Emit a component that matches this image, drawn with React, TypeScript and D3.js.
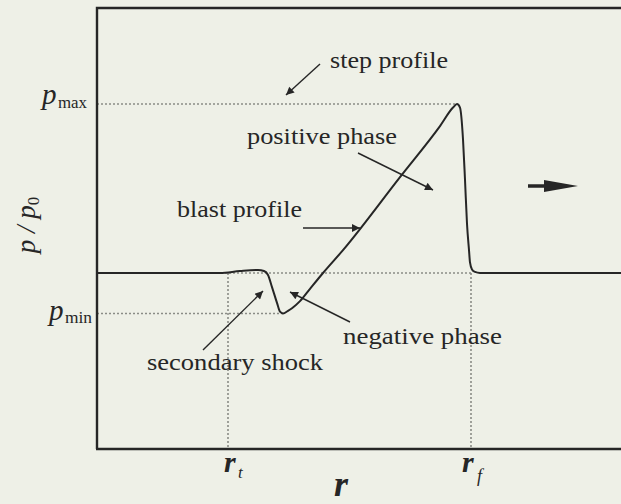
import * as d3 from "d3";

const W = 621;
const H = 504;

// blast profile, r in arbitrary units, pressure as p / p0
const R = [0, 1.23, 1.43, 1.61, 1.67, 1.71, 1.75, 1.8, 1.83, 1.86, 1.91, 1.95, 2.03, 2.13, 2.26, 2.46, 3.03, 3.43, 3.56, 3.6, 3.63, 3.66, 3.68, 3.7, 3.72, 3.73, 3.75, 3.78, 3.83, 5.24];
const P = [1, 1, 1.011, 1.017, 1.011, 0.989, 0.92, 0.83, 0.78, 0.77, 0.785, 0.8, 0.84, 0.91, 1, 1.13, 1.545, 1.835, 1.94, 1.96, 1.94, 1.76, 1.53, 1.28, 1.13, 1.06, 1.02, 1.006, 1, 1];

const P0 = 1;
const P_MAX = 1.96;
const P_MIN = 0.77;
const R_T = 1.31;
const R_F = 3.74;
const R_PEAK = 3.6;
const R_MIN = 1.86;

const LABELS = ["step profile", "positive phase", "blast profile", "secondary shock", "negative phase"];

const INK = "#262626";
const DOT = "#8a8c86";
const SERIF = "Liberation Serif";

export default function App() {
  const x = d3.scaleLinear().domain([0, 5.24]).range([97, W]);
  const y = d3.scaleLinear().domain([0, 2.5]).range([449, 9]);

  const line = d3
    .line<number>()
    .x((d, i) => x(R[i]))
    .y((d) => y(d))
    .curve(d3.curveMonotoneX);

  // label placement: [x, baseline, width]
  const labelPos = [
    [330, 68, 118],
    [247, 144, 150],
    [177, 217, 125],
    [147, 370, 176],
    [343, 344, 159],
  ];

  // annotation arrows: tail -> tip
  const arrows = [
    [320, 64, 286, 95],
    [358, 153, 433, 190],
    [303, 228, 360, 228],
    [203, 350, 263, 291],
    [350, 322, 290, 292],
  ];

  const dotted = { stroke: DOT, strokeWidth: 1.6, strokeDasharray: "2 2", fill: "none" };
  const txt = { fill: INK, fontFamily: SERIF };

  return (
    <svg width={W} height={H} style={{ position: "absolute", left: 0, top: 0 }}>
      <defs>
        <marker id="ah" viewBox="0 0 10 10" refX={10} refY={5} markerUnits="userSpaceOnUse" markerWidth={13} markerHeight={8} orient="auto">
          <path d="M0,0 L10,5 L0,10 z" fill={INK} />
        </marker>
      </defs>
      <rect width={W} height={H} fill="#eef0e7" />

      {/* dotted guide lines */}
      <line x1={x(0)} x2={x(R_PEAK)} y1={y(P_MAX)} y2={y(P_MAX)} {...dotted} />
      <line x1={x(0)} x2={x(R_F)} y1={y(P0)} y2={y(P0)} {...dotted} />
      <line x1={x(0)} x2={x(R_MIN)} y1={y(P_MIN)} y2={y(P_MIN)} {...dotted} />
      <line x1={x(R_T)} x2={x(R_T)} y1={y(P0)} y2={y(0)} {...dotted} />
      <line x1={x(R_F)} x2={x(R_F)} y1={y(P0)} y2={y(0)} {...dotted} />

      {/* frame */}
      <path d={`M${x(0)},${y(0)} L${x(0)},${y(2.5) - 1} L${W},${y(2.5) - 1}`} fill="none" stroke={INK} strokeWidth={2.4} />
      <line x1={x(0) - 1} x2={W} y1={y(0)} y2={y(0)} stroke={INK} strokeWidth={2.4} />

      {/* blast profile */}
      <path d={line(P) ?? ""} fill="none" stroke={INK} strokeWidth={2} />

      {/* annotations */}
      {arrows.map((a, i) => (
        <line key={i} x1={a[0]} y1={a[1]} x2={a[2]} y2={a[3]} stroke={INK} strokeWidth={1.4} markerEnd="url(#ah)" />
      ))}
      {LABELS.map((t, i) => (
        <text key={t} x={labelPos[i][0]} y={labelPos[i][1]} fontSize={24} textLength={labelPos[i][2]} lengthAdjust="spacingAndGlyphs" {...txt}>
          {t}
        </text>
      ))}

      {/* direction arrow */}
      <line x1={528} y1={186} x2={550} y2={186} stroke={INK} strokeWidth={3.5} />
      <path d="M544,180 L578,186 L544,192 z" fill={INK} />

      {/* y axis labels */}
      <text x={42} y={104} fontSize={29} fontStyle="italic" {...txt}>p</text>
      <text x={58} y={108} fontSize={16} textLength={29} lengthAdjust="spacingAndGlyphs" {...txt}>max</text>
      <text x={49} y={320} fontSize={29} fontStyle="italic" {...txt}>p</text>
      <text x={65} y={323} fontSize={16} textLength={27} lengthAdjust="spacingAndGlyphs" {...txt}>min</text>
      <text transform="translate(35,225) rotate(-90)" textAnchor="middle" fontSize={27} fontStyle="italic" {...txt}>
        p / p<tspan fontSize={17} fontStyle="normal" dy={4}>0</tspan>
      </text>

      {/* x axis labels */}
      <text x={x(R_T) - 4} y={472} fontSize={30} fontStyle="italic" fontWeight="bold" {...txt}>r</text>
      <text x={x(R_T) + 10} y={478} fontSize={17} fontStyle="italic" {...txt}>t</text>
      <text x={x(R_F) - 9} y={472} fontSize={30} fontStyle="italic" fontWeight="bold" {...txt}>r</text>
      <text x={x(R_F) + 6} y={482} fontSize={18} fontStyle="italic" {...txt}>f</text>
      <text x={334} y={496} fontSize={36} fontStyle="italic" fontWeight="bold" {...txt}>r</text>
    </svg>
  );
}
